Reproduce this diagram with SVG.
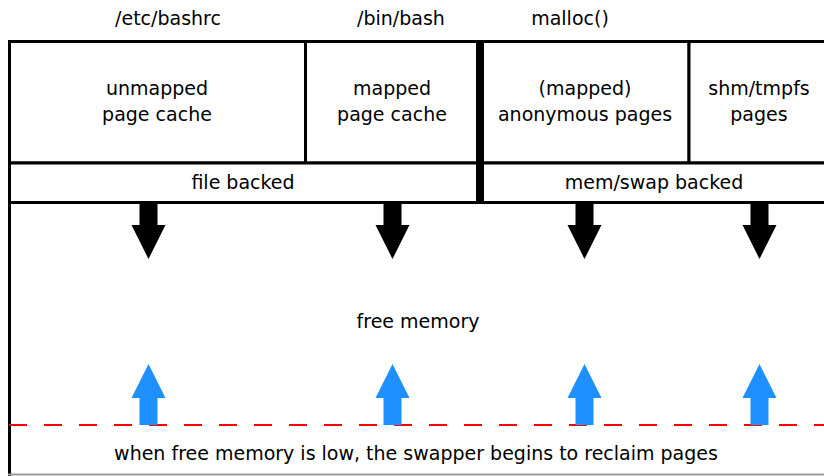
<svg xmlns="http://www.w3.org/2000/svg" width="824" height="476" viewBox="0 0 824 476">
  <style>
    text { font-family: "DejaVu Sans", "Liberation Sans", sans-serif; font-size: 19px; fill: #000; text-anchor: middle; }
    .box { fill: #fff; stroke: #000; stroke-width: 3; }
    .down { fill: #000; }
    .up { fill: #1e90ff; }
  </style>

  <!-- source labels -->
  <g id="labels">
    <text x="168" y="25">/etc/bashrc</text>
    <text x="401" y="25">/bin/bash</text>
    <text x="570" y="25">malloc()</text>
  </g>

  <!-- outer memory area -->
  <g id="memory">
    <line x1="9.5" y1="40" x2="9.5" y2="476" stroke="#000" stroke-width="3"/>
    <line x1="8" y1="474.5" x2="824" y2="474.5" stroke="#999" stroke-width="2"/>
  </g>

  <g id="unmapped-page-cache">
    <rect class="box" x="9.5" y="41.5" width="296" height="121.5"/>
    <text x="157" y="95">unmapped</text>
    <text x="157" y="121">page cache</text>
  </g>

  <g id="mapped-page-cache">
    <rect class="box" x="305.5" y="41.5" width="172" height="121.5"/>
    <text x="392" y="95">mapped</text>
    <text x="392" y="121">page cache</text>
  </g>

  <g id="anonymous-pages">
    <rect class="box" x="482.5" y="41.5" width="206.5" height="121.5"/>
    <text x="585" y="95">(mapped)</text>
    <text x="585" y="121">anonymous pages</text>
  </g>

  <g id="shm-tmpfs-pages">
    <rect class="box" x="689" y="41.5" width="150" height="121.5"/>
    <text x="759" y="95">shm/tmpfs</text>
    <text x="759" y="121">pages</text>
  </g>

  <g id="file-backed">
    <rect class="box" x="9.5" y="163" width="468" height="39.5"/>
    <text x="243" y="189">file backed</text>
  </g>

  <g id="mem-swap-backed">
    <rect class="box" x="482.5" y="163" width="356.5" height="39.5"/>
    <text x="654" y="189">mem/swap backed</text>
  </g>

  <!-- thick split between file backed and anonymous memory -->
  <rect x="476" y="40" width="8" height="164" fill="#000"/>

  <g id="free-memory">
    <text x="418" y="328">free memory</text>
  </g>

  <g id="swapper">
    <text x="416" y="460">when free memory is low, the swapper begins to reclaim pages</text>
  </g>

  <!-- allocation and reclaim arrows -->
  <g id="connectors">
    <g class="down">
      <path d="M139.5 202 H157.5 V225 H165.5 L148.5 259 L131.5 225 H139.5 Z"/>
      <path d="M383.5 202 H401.5 V225 H409.5 L392.5 259 L375.5 225 H383.5 Z"/>
      <path d="M575.5 202 H593.5 V225 H601.5 L584.5 259 L567.5 225 H575.5 Z"/>
      <path d="M750.5 202 H768.5 V225 H776.5 L759.5 259 L742.5 225 H750.5 Z"/>
    </g>
    <line x1="9" y1="425" x2="824" y2="425" stroke="#ff0000" stroke-width="2" stroke-dasharray="18,17"/>
    <g class="up">
      <path d="M139.5 425 H157.5 V398 H165.5 L148.5 364 L131.5 398 H139.5 Z"/>
      <path d="M383.5 425 H401.5 V398 H409.5 L392.5 364 L375.5 398 H383.5 Z"/>
      <path d="M575.5 425 H593.5 V398 H601.5 L584.5 364 L567.5 398 H575.5 Z"/>
      <path d="M750.5 425 H768.5 V398 H776.5 L759.5 364 L742.5 398 H750.5 Z"/>
    </g>
  </g>
</svg>
